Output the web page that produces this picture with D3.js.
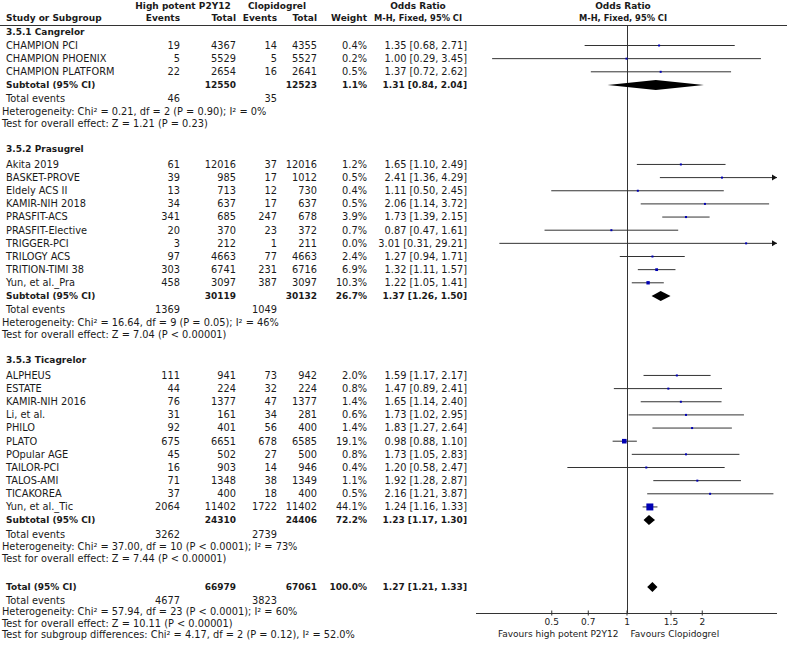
<!DOCTYPE html>
<html><head><meta charset="utf-8">
<script src="https://cdn.jsdelivr.net/npm/d3@7"></script>
<style>
body{margin:0;background:#fff}
svg{display:block}
text{font-family:"DejaVu Sans",sans-serif;font-size:9.8px;fill:#1a1a1a}
.b{font-weight:bold;font-size:9px}
.h{font-weight:bold;font-size:9px}
.hs{font-weight:bold;font-size:8.3px}
.ax{font-size:9px}
</style>
</head><body><svg id="c" width="787" height="648"></svg>
<script>
// ---------- DATA ----------
const groupNames = ["3.5.1 Cangrelor", "3.5.2 Prasugrel", "3.5.3 Ticagrelor"];
const studyNames = ["CHAMPION PCI","CHAMPION PHOENIX","CHAMPION PLATFORM",
  "Akita 2019","BASKET-PROVE","Eldely ACS II","KAMIR-NIH 2018","PRASFIT-ACS","PRASFIT-Elective","TRIGGER-PCI","TRILOGY ACS","TRITION-TIMI 38","Yun, et al._Pra",
  "ALPHEUS","ESTATE","KAMIR-NIH 2016","Li, et al.","PHILO","PLATO","POpular AGE","TAILOR-PCI","TALOS-AMI","TICAKOREA","Yun, et al._Tic"];
const studyGroup = [0,0,0, 1,1,1,1,1,1,1,1,1,1, 2,2,2,2,2,2,2,2,2,2,2];
const eventsHigh = [19,5,22, 61,39,13,34,341,20,3,97,303,458, 111,44,76,31,92,675,45,16,71,37,2064];
const totalHigh = [4367,5529,2654, 12016,985,713,637,685,370,212,4663,6741,3097, 941,224,1377,161,401,6651,502,903,1348,400,11402];
const eventsClop = [14,5,16, 37,17,12,17,247,23,1,77,231,387, 73,32,47,34,56,678,27,14,38,18,1722];
const totalClop = [4355,5527,2641, 12016,1012,730,637,678,372,211,4663,6716,3097, 942,224,1377,281,400,6585,500,946,1349,400,11402];
const weightPct = [0.4,0.2,0.5, 1.2,0.5,0.4,0.5,3.9,0.7,0.0,2.4,6.9,10.3, 2.0,0.8,1.4,0.6,1.4,19.1,0.8,0.4,1.1,0.5,44.1];
const oddsRatio = [1.35,1.00,1.37, 1.65,2.41,1.11,2.06,1.73,0.87,3.01,1.27,1.32,1.22, 1.59,1.47,1.65,1.73,1.83,0.98,1.73,1.20,1.92,2.16,1.24];
const ciLow = [0.68,0.29,0.72, 1.10,1.36,0.50,1.14,1.39,0.47,0.31,0.94,1.11,1.05, 1.17,0.89,1.14,1.02,1.27,0.88,1.05,0.58,1.28,1.21,1.16];
const ciHigh = [2.71,3.45,2.62, 2.49,4.29,2.45,3.72,2.15,1.61,29.21,1.71,1.57,1.41, 2.17,2.41,2.40,2.95,2.64,1.10,2.83,2.47,2.87,3.87,1.33];

const subTotalHigh = [12550, 30119, 24310];
const subTotalClop = [12523, 30132, 24406];
const subWeight = [1.1, 26.7, 72.2];
const subOR = [1.31, 1.37, 1.23];
const subLow = [0.84, 1.26, 1.17];
const subHigh = [2.04, 1.50, 1.30];
const subEventsHigh = [46, 1369, 3262];
const subEventsClop = [35, 1049, 2739];
const subHeterogeneity = [
  "Heterogeneity: Chi² = 0.21, df = 2 (P = 0.90); I² = 0%",
  "Heterogeneity: Chi² = 16.64, df = 9 (P = 0.05); I² = 46%",
  "Heterogeneity: Chi² = 37.00, df = 10 (P < 0.0001); I² = 73%"];
const subOverallTest = [
  "Test for overall effect: Z = 1.21 (P = 0.23)",
  "Test for overall effect: Z = 7.04 (P < 0.00001)",
  "Test for overall effect: Z = 7.44 (P < 0.00001)"];

const overallTotals = [66979, 67061];
const overallWeight = 100.0;
const overallEstimate = [1.27, 1.21, 1.33];
const overallEvents = [4677, 3823];
const overallNotes = [
  "Heterogeneity: Chi² = 57.94, df = 23 (P < 0.0001); I² = 60%",
  "Test for overall effect: Z = 10.11 (P < 0.00001)",
  "Test for subgroup differences: Chi² = 4.17, df = 2 (P = 0.12), I² = 52.0%"];

const axisTicks = [0.5, 0.7, 1, 1.5, 2];
const axisDomain = [0.25, 4];
const favourLabels = ["Favours high potent P2Y12", "Favours Clopidogrel"];

// ---------- LAYOUT ----------
const svg = d3.select("#c");
const x = d3.scaleLog().domain(axisDomain).range([476, 777]);
const col = {name: 6, note: 2, eH: 180, nH: 236, eC: 277, nC: 317, w: 367, or: 467};
const fmtOR = (o, l, h) => `${o.toFixed(2)} [${l.toFixed(2)}, ${h.toFixed(2)}]`;
const ink = "#1a1a1a";

function txt(xp, yp, s, anchor, cls) {
  svg.append("text").attr("x", xp).attr("y", yp).attr("dy", "0.35em")
    .attr("text-anchor", anchor || "start").attr("class", cls || null).text(s);
}

// headers
txt(183, 6, "High potent P2Y12", "middle", "h");
txt(277, 6, "Clopidogrel", "middle", "h");
txt(418, 6, "Odds Ratio", "middle", "h");
txt(623, 6, "Odds Ratio", "middle", "h");
txt(col.name, 18, "Study or Subgroup", "start", "h");
txt(col.eH, 18, "Events", "end", "h");
txt(col.nH, 18, "Total", "end", "h");
txt(col.eC, 18, "Events", "end", "h");
txt(col.nC, 18, "Total", "end", "h");
txt(col.w, 18, "Weight", "end", "h");
txt(418, 18, "M-H, Fixed, 95% CI", "middle", "hs");
txt(623, 18, "M-H, Fixed, 95% CI", "middle", "hs");
svg.append("line").attr("x1", 0).attr("x2", 787).attr("y1", 25.5).attr("y2", 25.5)
  .attr("stroke", "#333").attr("stroke-width", 1);

const axisY = 613.5;
// null line
svg.append("line").attr("x1", Math.round(x(1)) + 0.5).attr("x2", Math.round(x(1)) + 0.5)
  .attr("y1", 25.5).attr("y2", axisY).attr("stroke", "#333").attr("stroke-width", 1);

function diamond(yc, o, l, h) {
  const hh = 5;
  svg.append("path")
    .attr("d", `M${x(l)},${yc} L${x(o)},${yc - hh} L${x(h)},${yc} L${x(o)},${yc + hh} Z`)
    .attr("fill", "#000");
}

function studyMark(i, yc) {
  const lo = Math.max(ciLow[i], axisDomain[0]);
  const hi = Math.min(ciHigh[i], axisDomain[1]);
  svg.append("line").attr("x1", x(lo)).attr("x2", x(hi)).attr("y1", yc).attr("y2", yc)
    .attr("stroke", "#333").attr("stroke-width", 1);
  if (ciHigh[i] > axisDomain[1]) {
    const xe = x(axisDomain[1]);
    svg.append("path").attr("d", `M${xe},${yc} L${xe - 5},${yc - 3} L${xe - 5},${yc + 3} Z`).attr("fill", "#111");
  }
  if (ciLow[i] < axisDomain[0]) {
    const xs = x(axisDomain[0]);
    svg.append("path").attr("d", `M${xs},${yc} L${xs + 5},${yc - 3} L${xs + 5},${yc + 3} Z`).attr("fill", "#111");
  }
  const s = Math.max(2, 1.05 * Math.sqrt(weightPct[i]));
  svg.append("rect").attr("x", x(oddsRatio[i]) - s / 2).attr("y", yc - s / 2)
    .attr("width", s).attr("height", s).attr("fill", "#0000b4");
}

let y = 32;
groupNames.forEach((g, gi) => {
  txt(col.name, y, g, "start", "b");
  y += gi === 0 ? 13.5 : 15.5;
  studyNames.forEach((n, i) => {
    if (studyGroup[i] !== gi) return;
    txt(col.name, y, n);
    txt(col.eH, y, eventsHigh[i], "end");
    txt(col.nH, y, totalHigh[i], "end");
    txt(col.eC, y, eventsClop[i], "end");
    txt(col.nC, y, totalClop[i], "end");
    txt(col.w, y, weightPct[i].toFixed(1) + "%", "end");
    txt(col.or, y, fmtOR(oddsRatio[i], ciLow[i], ciHigh[i]), "end");
    studyMark(i, y);
    y += 13.15;
  });
  txt(col.name, y, "Subtotal (95% CI)", "start", "b");
  txt(col.nH, y, subTotalHigh[gi], "end", "b");
  txt(col.nC, y, subTotalClop[gi], "end", "b");
  txt(col.w, y, subWeight[gi].toFixed(1) + "%", "end", "b");
  txt(col.or, y, fmtOR(subOR[gi], subLow[gi], subHigh[gi]), "end", "b");
  diamond(y, subOR[gi], subLow[gi], subHigh[gi]);
  y += 14;
  txt(col.name, y, "Total events");
  txt(col.eH, y, subEventsHigh[gi], "end");
  txt(col.eC, y, subEventsClop[gi], "end");
  y += 12.5;
  txt(col.note, y, subHeterogeneity[gi]);
  y += 12;
  txt(col.note, y, subOverallTest[gi]);
  y += 25.5;
});

y += 3;
txt(col.name, y, "Total (95% CI)", "start", "b");
txt(col.nH, y, overallTotals[0], "end", "b");
txt(col.nC, y, overallTotals[1], "end", "b");
txt(col.w, y, overallWeight.toFixed(1) + "%", "end", "b");
txt(col.or, y, fmtOR(overallEstimate[0], overallEstimate[1], overallEstimate[2]), "end", "b");
diamond(y, overallEstimate[0], overallEstimate[1], overallEstimate[2]);
y += 13;
txt(col.name, y, "Total events");
txt(col.eH, y, overallEvents[0], "end");
txt(col.eC, y, overallEvents[1], "end");
y += 11.5;
overallNotes.forEach(s => { txt(col.note, y, s); y += 11.5; });

// axis
const axis = d3.axisBottom(x).tickValues(axisTicks).tickSize(3)
  .tickFormat(d => String(d));
const ag = svg.append("g").attr("transform", `translate(0,${axisY})`).call(axis);
ag.select(".domain").attr("d", `M${x(axisDomain[0])},0H${x(axisDomain[1])}`).attr("stroke", "#333");
ag.selectAll(".tick line").attr("y1", -3).attr("y2", 2).attr("stroke", "#333");
ag.selectAll(".tick text").attr("y", 5).attr("dy", "0.71em")
  .style("font-family", '"DejaVu Sans",sans-serif').style("font-size", "9px").attr("fill", ink);
txt(x(1) - 8, 634, favourLabels[0], "end", "ax");
txt(x(1) + 4, 634, favourLabels[1], "start", "ax");
</script>
</body></html>
